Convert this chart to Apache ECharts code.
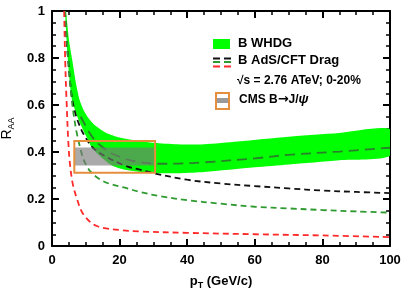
<!DOCTYPE html>
<html><head><meta charset="utf-8">
<script src="https://cdn.jsdelivr.net/npm/echarts@6/dist/echarts.min.js"></script>
<style>html,body{margin:0;padding:0;background:#fff}#c{width:406px;height:289px}</style>
</head><body><div id="c"></div>
<script>
// ---- data ----
const xRange = [0, 100];
const yRange = [0, 1];
const whdgUpper = [[4.1,1.0],[5.0,0.88],[6.0,0.79],[7.0,0.70],[8.1,0.625],[9.3,0.58],[10.5,0.55],[12.2,0.52],[14,0.50],[16.2,0.48],[20,0.462],[26,0.447],[31,0.438],[38,0.432],[45,0.433],[55,0.445],[70,0.465],[85,0.481],[100,0.497]];
const whdgLower = [[3.85,1.0],[4.7,0.79],[5.8,0.63],[7.5,0.55],[9.0,0.50],[10.7,0.45],[11.7,0.42],[14,0.385],[17.7,0.343],[22,0.323],[26,0.315],[31,0.31],[38,0.31],[45,0.315],[60,0.335],[70,0.347],[85,0.365],[100,0.384]];
const whdgCentral = [[8.5,0.55],[11.2,0.48],[13,0.445],[15,0.42],[17.5,0.395],[20,0.38],[23,0.365],[26,0.357],[31,0.35],[38,0.351],[45,0.356],[60,0.373],[70,0.388],[85,0.402],[100,0.418]];
const adsBlack = [[3.8,1.0],[4.3,0.88],[4.8,0.79],[5.8,0.64],[6.8,0.57],[7.7,0.53],[9.2,0.48],[12,0.42],[16,0.38],[22,0.34],[26,0.325],[30,0.31],[40,0.282],[50,0.266],[60,0.255],[70,0.245],[80,0.236],[90,0.23],[100,0.225]];
const adsGreen = [[3.9,1.0],[4.5,0.85],[5.2,0.72],[5.8,0.63],[6.2,0.58],[7.2,0.49],[8.3,0.42],[9.3,0.37],[10.3,0.34],[11.5,0.315],[14,0.285],[17,0.265],[21.6,0.248],[26,0.23],[32,0.212],[40,0.195],[50,0.18],[60,0.167],[70,0.16],[80,0.153],[90,0.147],[100,0.142]];
const adsRed = [[3.6,1.0],[3.9,0.79],[4.3,0.62],[4.8,0.45],[5.3,0.35],[6.2,0.26],[7.4,0.2],[8.5,0.155],[9.8,0.125],[11.5,0.1],[13.3,0.085],[16,0.075],[20,0.068],[26,0.062],[40,0.056],[60,0.05],[80,0.045],[100,0.038]];
const cmsX = [6.6, 30.5];
const cmsStat = [0.343, 0.419];
const cmsSyst = [0.312, 0.447];

const FONT = "'Liberation Sans', Arial, sans-serif";
const chart = echarts.init(document.getElementById('c'), null, {renderer: 'canvas'});

function axisCommon(show) {
  return {
    type: 'value', min: xRange[0], max: xRange[1], interval: 20,
    axisLine: {show: true, onZero: false, lineStyle: {color: '#000', width: 2}},
    axisTick: {show: true, inside: true, length: 7, lineStyle: {color: '#000', width: 2}},
    minorTick: {show: true, splitNumber: 4, length: 4, lineStyle: {color: '#000', width: 1.5}},
    splitLine: {show: false},
    axisLabel: {show: show, color: '#000', fontFamily: FONT, fontWeight: 'bold', fontSize: 13, margin: 8}
  };
}
function yCommon(show) {
  return {
    type: 'value', min: yRange[0], max: yRange[1], interval: 0.2,
    axisLine: {show: true, onZero: false, lineStyle: {color: '#000', width: 2}},
    axisTick: {show: true, inside: true, length: 7, lineStyle: {color: '#000', width: 2}},
    minorTick: {show: true, splitNumber: 4, length: 4, lineStyle: {color: '#000', width: 1.5}},
    splitLine: {show: false},
    axisLabel: {show: show, color: '#000', fontFamily: FONT, fontWeight: 'bold', fontSize: 13, margin: 7}
  };
}

function dashed(data, color, dash, z) {
  return {
    type: 'line', data: data, showSymbol: false, symbol: 'none', smooth: 0.35, z: z,
    lineStyle: {color: color, width: 1.8, type: dash},
    silent: true, animation: false
  };
}

const option = {
  animation: false,
  grid: {left: 52, right: 16, top: 11, bottom: 43, containLabel: false, outerBoundsMode: 'none'},
  xAxis: [
    Object.assign(axisCommon(true), {
      position: 'bottom',
      name: '{a|p}{s|T}{a| (GeV/c)}', nameLocation: 'middle', nameGap: 27,
      nameTextStyle: {rich: {
        a: {fontFamily: FONT, fontWeight: 'bold', fontSize: 13, color: '#000'},
        s: {fontFamily: FONT, fontWeight: 'bold', fontSize: 9, color: '#000', verticalAlign: 'bottom', padding: [8,0,0,0]}
      }}
    }),
    Object.assign(axisCommon(false), {position: 'top'})
  ],
  yAxis: [
    Object.assign(yCommon(true), {
      position: 'left',
      name: '{a|R}{s|AA}', nameLocation: 'middle', nameGap: 31, nameRotate: 90,
      nameTextStyle: {rich: {
        a: {fontFamily: FONT, fontSize: 14, color: '#000'},
        s: {fontFamily: FONT, fontSize: 9, color: '#000', verticalAlign: 'bottom', padding: [8,0,0,0]}
      }}
    }),
    Object.assign(yCommon(false), {position: 'right'})
  ],
  series: [
    {
      type: 'custom', clip: true, z: 1, silent: true,
      data: [[50, 0.5]],
      renderItem: function (params, api) {
        const pts = whdgUpper.map(p => api.coord(p))
          .concat(whdgLower.slice().reverse().map(p => api.coord(p)));
        return {type: 'polygon', shape: {points: pts, smooth: 0.25}, style: {fill: '#00ff00', stroke: null}};
      }
    },
    dashed(whdgCentral, '#2a7f2a', [10, 6], 2),
    dashed(adsBlack, '#111', [6, 4], 3),
    dashed(adsGreen, '#2f9a2f', [6, 4], 3),
    dashed(adsRed, '#ff2a2a', [6, 4], 3),
    {
      type: 'custom', clip: true, z: 5, silent: true,
      data: [[cmsX[0], cmsStat[0], cmsX[1], cmsStat[1]]],
      renderItem: function (params, api) {
        const a = api.coord([api.value(0), api.value(3)]);
        const b = api.coord([api.value(2), api.value(1)]);
        return {type: 'rect', shape: {x: a[0], y: a[1], width: b[0]-a[0], height: b[1]-a[1]},
          style: {fill: 'rgba(120,120,120,0.63)'}};
      }
    },
    {
      type: 'custom', clip: true, z: 6, silent: true,
      data: [[cmsX[0], cmsSyst[0], cmsX[1], cmsSyst[1]]],
      renderItem: function (params, api) {
        const a = api.coord([api.value(0), api.value(3)]);
        const b = api.coord([api.value(2), api.value(1)]);
        return {type: 'rect', shape: {x: a[0], y: a[1], width: b[0]-a[0], height: b[1]-a[1]},
          style: {fill: null, stroke: '#e58e3e', lineWidth: 2}};
      }
    }
  ],
  graphic: [
    {type: 'rect', left: 213, top: 39, shape: {width: 17, height: 10}, style: {fill: '#00ff00'}},
    {type: 'text', left: 238, top: 37, style: {text: 'B WHDG', fontFamily: FONT, fontWeight: 'bold', fontSize: 13, fill: '#000'}},
    {type: 'line', shape: {x1: 213, y1: 58.5, x2: 220, y2: 58.5}, style: {stroke: '#111', lineWidth: 2}},
    {type: 'line', shape: {x1: 224, y1: 58.5, x2: 231, y2: 58.5}, style: {stroke: '#111', lineWidth: 2}},
    {type: 'line', shape: {x1: 213, y1: 62, x2: 220, y2: 62}, style: {stroke: '#2f9a2f', lineWidth: 2}},
    {type: 'line', shape: {x1: 224, y1: 62, x2: 231, y2: 62}, style: {stroke: '#2f9a2f', lineWidth: 2}},
    {type: 'line', shape: {x1: 213, y1: 66.5, x2: 220, y2: 66.5}, style: {stroke: '#ff2a2a', lineWidth: 2}},
    {type: 'line', shape: {x1: 224, y1: 66.5, x2: 231, y2: 66.5}, style: {stroke: '#ff2a2a', lineWidth: 2}},
    {type: 'text', left: 238, top: 54, style: {text: 'B AdS/CFT Drag', fontFamily: FONT, fontWeight: 'bold', fontSize: 13, fill: '#000'}},
    {type: 'text', left: 237, top: 75, style: {text: '\u221As = 2.76 ATeV; 0-20%', fontFamily: FONT, fontWeight: 'bold', fontSize: 12, fill: '#000'}},
    {type: 'rect', left: 216, top: 98, shape: {width: 13, height: 5}, style: {fill: '#9a9a9a'}},
    {type: 'rect', shape: {x: 216, y: 93, width: 13, height: 16}, style: {fill: null, stroke: '#e58e3e', lineWidth: 2}},
    {type: 'text', left: 239, top: 93, style: {
      text: '{a|CMS B}{r|\u2192}{a|J/}{p|\u03C8}',
      rich: {
        a: {fontFamily: FONT, fontWeight: 'bold', fontSize: 12, fill: '#000'},
        r: {fontFamily: "'DejaVu Sans', sans-serif", fontWeight: 'bold', fontSize: 13, fill: '#000'},
        p: {fontFamily: FONT, fontWeight: 'bold', fontStyle: 'italic', fontSize: 13, fill: '#000'}
      }
    }}
  ]
};
chart.setOption(option);
</script>
</body></html>
